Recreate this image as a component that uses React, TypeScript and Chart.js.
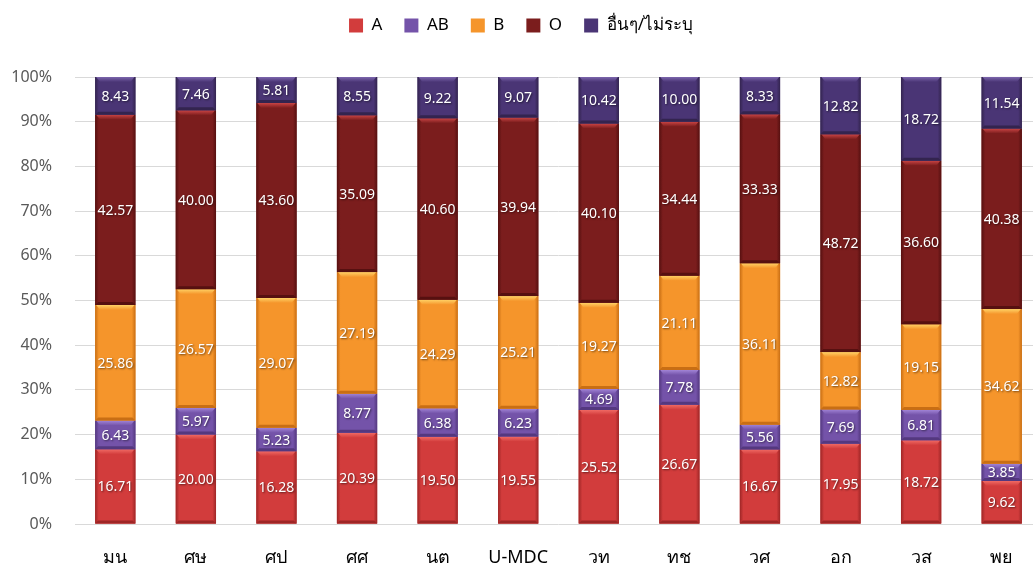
import React, { useEffect, useRef } from "react";
import { Chart, registerables } from "chart.js";

Chart.register(...registerables);

const categories = ["มน", "ศษ", "ศป", "ศศ", "นต", "U-MDC", "วท", "ทช", "วศ", "อก", "วส", "พย"];
const seriesA = [16.71, 20.0, 16.28, 20.39, 19.5, 19.55, 25.52, 26.67, 16.67, 17.95, 18.72, 9.62];
const seriesAB = [6.43, 5.97, 5.23, 8.77, 6.38, 6.23, 4.69, 7.78, 5.56, 7.69, 6.81, 3.85];
const seriesB = [25.86, 26.57, 29.07, 27.19, 24.29, 25.21, 19.27, 21.11, 36.11, 12.82, 19.15, 34.62];
const seriesO = [42.57, 40.0, 43.6, 35.09, 40.6, 39.94, 40.1, 34.44, 33.33, 48.72, 36.6, 40.38];
const seriesOther = [8.43, 7.46, 5.81, 8.55, 9.22, 9.07, 10.42, 10.0, 8.33, 12.82, 18.72, 11.54];
const seriesNames = ["A", "AB", "B", "O", "อื่นๆ/ไม่ระบุ"];
const seriesValues = [seriesA, seriesAB, seriesB, seriesO, seriesOther];
const seriesColors = ["#d23c3c", "#7453a9", "#f5952b", "#7b1d1d", "#4a3575"];
const seriesDark = ["#9e2626", "#54387f", "#c86e14", "#561010", "#33244f"];
const seriesLight = ["#f06a64", "#a184d6", "#ffd266", "#c94444", "#7c66ad"];
const yTickMax = 100;
const yTickStep = 10;

const W = 1069;
const H = 572;
const FONT = "'Noto Sans', 'DejaVu Sans', sans-serif";

const bevelPlugin = {
  id: "bevel",
  afterDatasetsDraw(chart: any) {
    const ctx = chart.ctx;
    chart.data.datasets.forEach((_ds: any, di: number) => {
      const meta = chart.getDatasetMeta(di);
      meta.data.forEach((bar: any) => {
        const p = bar.getProps(["x", "y", "base", "width"], true);
        const left = p.x - p.width / 2;
        const right = p.x + p.width / 2;
        const top = Math.min(p.y, p.base);
        const bottom = Math.max(p.y, p.base);
        const h = bottom - top;
        if (h <= 0) return;
        ctx.save();
        const g = ctx.createLinearGradient(left, 0, right, 0);
        g.addColorStop(0, seriesDark[di]);
        g.addColorStop(0.09, seriesColors[di]);
        g.addColorStop(0.91, seriesColors[di]);
        g.addColorStop(1, seriesDark[di]);
        ctx.fillStyle = g;
        ctx.fillRect(left, top, p.width, h);
        const bh = Math.min(5, h / 2);
        const tg = ctx.createLinearGradient(0, top, 0, top + bh);
        tg.addColorStop(0, seriesLight[di]);
        tg.addColorStop(1, seriesColors[di]);
        ctx.fillStyle = tg;
        ctx.beginPath();
        ctx.moveTo(left + 1, top);
        ctx.lineTo(right - 1, top);
        ctx.lineTo(right - 5, top + bh);
        ctx.lineTo(left + 5, top + bh);
        ctx.closePath();
        ctx.fill();
        ctx.fillStyle = seriesDark[di];
        ctx.beginPath();
        ctx.moveTo(left, bottom);
        ctx.lineTo(right, bottom);
        ctx.lineTo(right - 3, bottom - Math.min(3, h / 3));
        ctx.lineTo(left + 3, bottom - Math.min(3, h / 3));
        ctx.closePath();
        ctx.fill();
        ctx.restore();
      });
    });
  },
};

const labelPlugin = {
  id: "segLabels",
  afterDatasetsDraw(chart: any) {
    const ctx = chart.ctx;
    ctx.save();
    ctx.font = `14px ${FONT}`;
    ctx.textAlign = "center";
    ctx.textBaseline = "middle";
    ctx.fillStyle = "#ffffff";
    ctx.shadowColor = "rgba(0,0,0,0.55)";
    ctx.shadowBlur = 2;
    ctx.shadowOffsetX = 1;
    ctx.shadowOffsetY = 1;
    chart.data.datasets.forEach((ds: any, di: number) => {
      const meta = chart.getDatasetMeta(di);
      meta.data.forEach((bar: any, i: number) => {
        const p = bar.getProps(["x", "y", "base"], true);
        const v = ds.data[i];
        ctx.fillText(v.toFixed(2), p.x, (p.y + p.base) / 2 + 1);
      });
    });
    ctx.restore();
  },
};

const legendHeightPlugin = {
  id: "legendHeight",
  beforeLayout(chart: any) {
    const lg = chart.legend;
    if (lg && !lg.__patched) {
      const origFit = lg.fit;
      lg.fit = function () {
        origFit.call(this);
        this.height = 77;
      };
      const origDraw = lg.draw;
      lg.draw = function () {
        const c = this.ctx;
        c.save();
        c.translate(0, -5);
        origDraw.call(this);
        c.restore();
      };
      lg.__patched = true;
    }
  },
};

export default function App() {
  const ref = useRef<HTMLCanvasElement | null>(null);
  useEffect(() => {
    if (!ref.current) return;
    const chart = new Chart(ref.current, {
      type: "bar",
      data: {
        labels: categories,
        datasets: seriesNames.map((name, i) => ({
          label: name,
          data: seriesValues[i],
          backgroundColor: seriesColors[i],
          borderWidth: 0,
          barPercentage: 0.5,
          categoryPercentage: 1,
        })),
      },
      options: {
        responsive: false,
        animation: false,
        layout: { padding: { left: 0, right: W - 1042, top: 0, bottom: 0 } },
        plugins: {
          legend: {
            position: "top",
            labels: {
              boxWidth: 14,
              boxHeight: 14,
              padding: 22,
              color: "#000000",
              font: { size: 17, family: FONT },
            },
          },
          tooltip: { enabled: false },
        },
        scales: {
          x: {
            stacked: true,
            grid: { display: false, drawTicks: false },
            border: { display: false },
            ticks: {
              color: "#000000",
              padding: 23,
              font: { size: 18, family: FONT },
            },
            afterFit(scale: any) {
              scale.height = 48;
            },
          },
          y: {
            stacked: true,
            min: 0,
            max: yTickMax,
            grid: { color: "#d9d9d9", drawTicks: false, lineWidth: 1 },
            border: { display: false },
            ticks: {
              stepSize: yTickStep,
              color: "#595959",
              padding: 23,
              font: { size: 16, family: FONT },
              callback: (v: any) => `${v}%`,
            },
            afterFit(scale: any) {
              scale.width = 75;
            },
          },
        },
      },
      plugins: [legendHeightPlugin, bevelPlugin, labelPlugin],
    });
    return () => chart.destroy();
  }, []);
  return (
    <div style={{ position: "fixed", left: 0, top: 0, width: W, height: H, background: "#fff" }}>
      <canvas ref={ref} width={W} height={H} style={{ width: W, height: H, display: "block" }} />
    </div>
  );
}
